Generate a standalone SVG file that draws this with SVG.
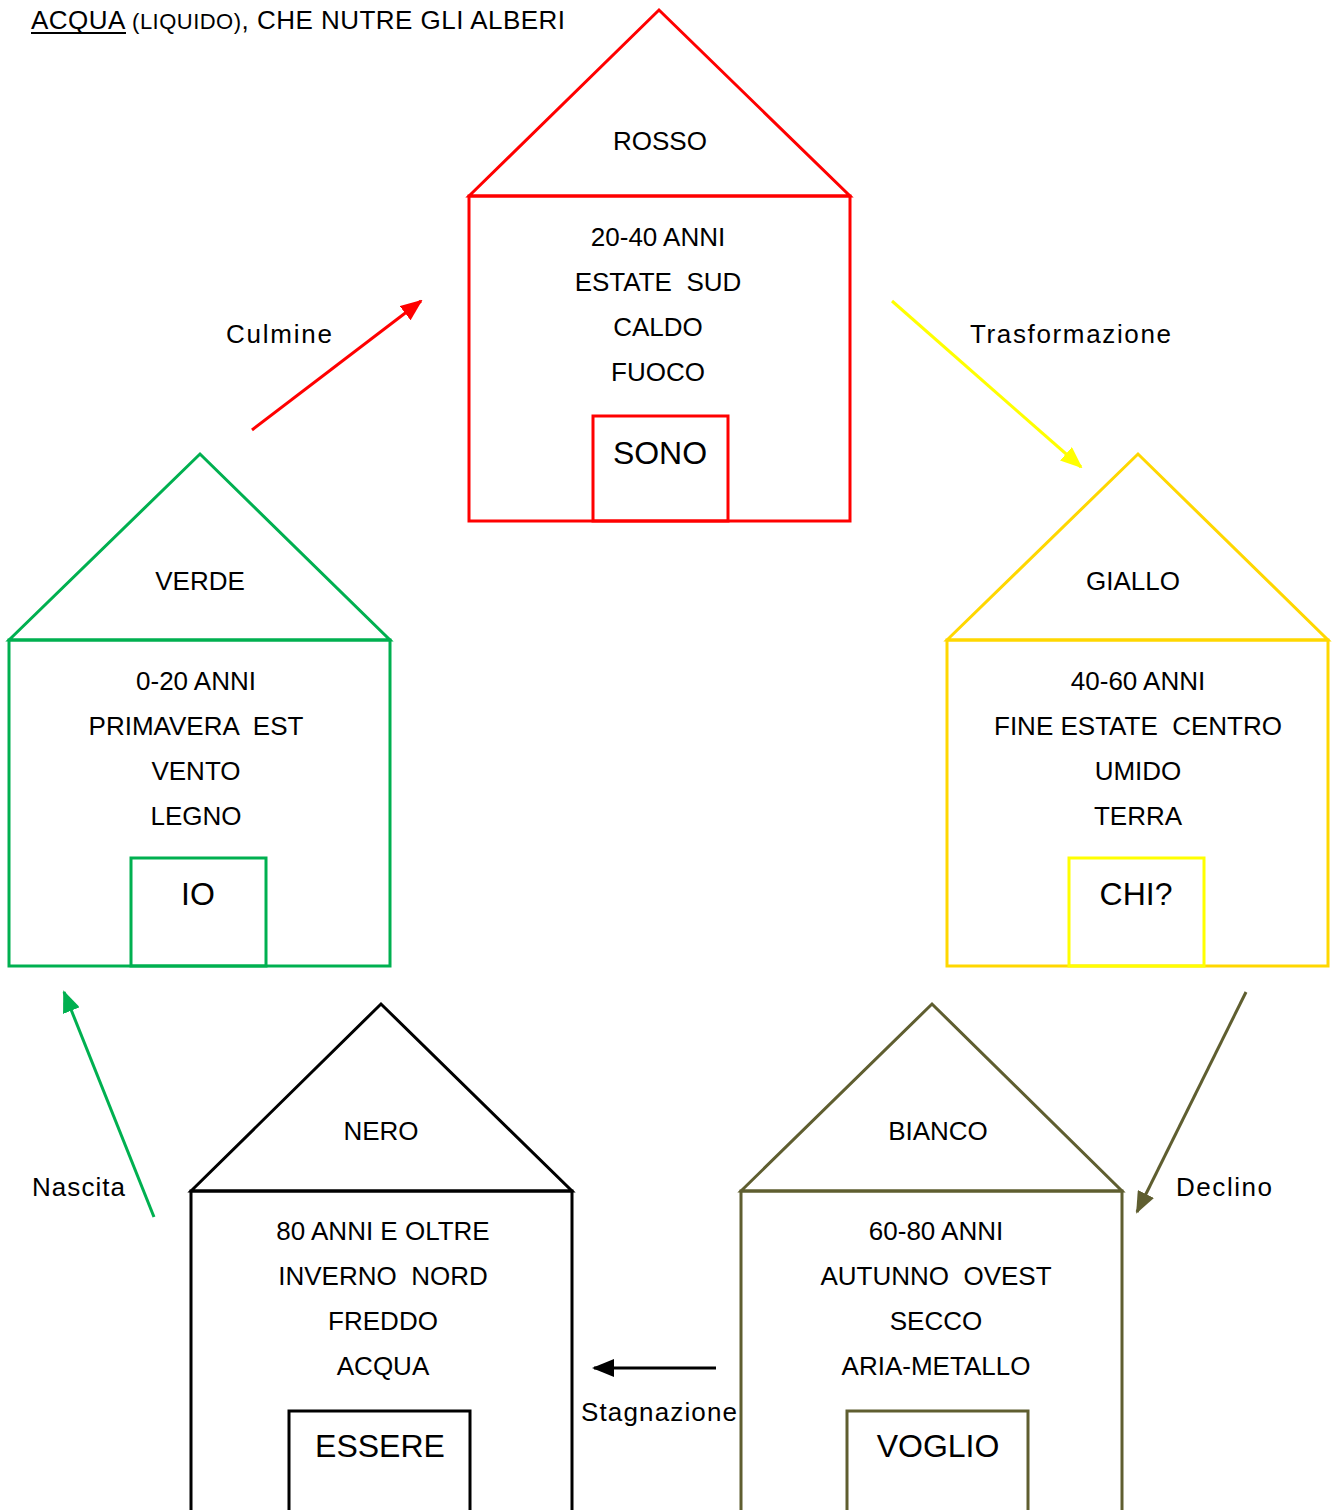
<svg xmlns="http://www.w3.org/2000/svg" width="1335" height="1510" viewBox="0 0 1335 1510">
<style>
text{font-family:"Liberation Sans",Arial,sans-serif;font-size:26px;fill:#000;text-anchor:middle;white-space:pre}
.lbl{text-anchor:start}
.door{font-size:32px}
.h{fill:none;stroke-width:3}
.c{fill:none;stroke-width:3}
</style>
<defs>
<marker id="mr" markerUnits="userSpaceOnUse" markerWidth="22" markerHeight="18" refX="20" refY="9" orient="auto"><path d="M0,0 L22,9 L0,18 Z" fill="#FF0000"/></marker>
<marker id="my" markerUnits="userSpaceOnUse" markerWidth="22" markerHeight="18" refX="20" refY="9" orient="auto"><path d="M0,0 L22,9 L0,18 Z" fill="#FFFF00"/></marker>
<marker id="mg" markerUnits="userSpaceOnUse" markerWidth="22" markerHeight="18" refX="20" refY="9" orient="auto"><path d="M0,0 L22,9 L0,18 Z" fill="#00B050"/></marker>
<marker id="mo" markerUnits="userSpaceOnUse" markerWidth="22" markerHeight="18" refX="20" refY="9" orient="auto"><path d="M0,0 L22,9 L0,18 Z" fill="#5F5E30"/></marker>
<marker id="mk" markerUnits="userSpaceOnUse" markerWidth="22" markerHeight="18" refX="20" refY="9" orient="auto"><path d="M0,0 L22,9 L0,18 Z" fill="#000"/></marker>
</defs>
<rect width="1335" height="1510" fill="#fff"/>

<g id="title">
<text class="lbl" x="31" y="29" textLength="534" lengthAdjust="spacing">ACQUA <tspan font-size="22">(LIQUIDO)</tspan>, CHE NUTRE GLI ALBERI</text>
<line x1="31" y1="33" x2="126" y2="33" stroke="#000" stroke-width="2"/>
</g>

<g id="rosso">
<path class="h" stroke="#FF0000" d="M469,196 L659,10 L850,196 Z"/>
<rect class="h" stroke="#FF0000" x="469" y="196" width="381" height="325"/>
<rect class="h" stroke="#FF0000" x="593" y="416" width="135" height="105"/>
<text x="660" y="150">ROSSO</text>
<text x="658" y="246">20-40 ANNI</text>
<text x="658" y="291">ESTATE  SUD</text>
<text x="658" y="336">CALDO</text>
<text x="658" y="381">FUOCO</text>
<text class="door" x="660" y="464">SONO</text>
</g>

<g id="verde">
<path class="h" stroke="#00B050" d="M9,640 L200,454 L390,640 Z"/>
<rect class="h" stroke="#00B050" x="9" y="640" width="381" height="326"/>
<rect class="h" stroke="#00B050" x="131" y="858" width="135" height="108"/>
<text x="200" y="590">VERDE</text>
<text x="196" y="690">0-20 ANNI</text>
<text x="196" y="735">PRIMAVERA  EST</text>
<text x="196" y="780">VENTO</text>
<text x="196" y="825">LEGNO</text>
<text class="door" x="198" y="905">IO</text>
</g>

<g id="giallo">
<path class="h" stroke="#FFD700" d="M947,640 L1138,454 L1328,640 Z"/>
<rect class="h" stroke="#FFD700" x="947" y="640" width="381" height="326"/>
<rect class="h" stroke="#FFFF00" x="1069" y="858" width="135" height="108"/>
<text x="1133" y="590">GIALLO</text>
<text x="1138" y="690">40-60 ANNI</text>
<text x="1138" y="735">FINE ESTATE  CENTRO</text>
<text x="1138" y="780">UMIDO</text>
<text x="1138" y="825">TERRA</text>
<text class="door" x="1136" y="905">CHI?</text>
</g>

<g id="nero">
<path class="h" stroke="#000" d="M191,1191 L381,1004 L572,1191 Z"/>
<rect class="h" stroke="#000" x="191" y="1191" width="381" height="330"/>
<rect class="h" stroke="#000" x="289" y="1411" width="181" height="110"/>
<text x="381" y="1140">NERO</text>
<text x="383" y="1240">80 ANNI E OLTRE</text>
<text x="383" y="1285">INVERNO  NORD</text>
<text x="383" y="1330">FREDDO</text>
<text x="383" y="1375">ACQUA</text>
<text class="door" x="380" y="1457">ESSERE</text>
</g>

<g id="bianco">
<path class="h" stroke="#5F5E30" d="M741,1191 L932,1004 L1122,1191 Z"/>
<rect class="h" stroke="#5F5E30" x="741" y="1191" width="381" height="330"/>
<rect class="h" stroke="#5F5E30" x="847" y="1411" width="181" height="110"/>
<text x="938" y="1140">BIANCO</text>
<text x="936" y="1240">60-80 ANNI</text>
<text x="936" y="1285">AUTUNNO  OVEST</text>
<text x="936" y="1330">SECCO</text>
<text x="936" y="1375">ARIA-METALLO</text>
<text class="door" x="938" y="1457">VOGLIO</text>
</g>

<g id="connectors">
<line class="c" stroke="#FF0000" x1="252" y1="430" x2="421" y2="301" marker-end="url(#mr)"/>
<line class="c" stroke="#FFFF00" x1="892" y1="301" x2="1081" y2="467" marker-end="url(#my)"/>
<line class="c" stroke="#00B050" x1="154" y1="1217" x2="64" y2="992" marker-end="url(#mg)"/>
<line class="c" stroke="#5F5E30" x1="1246" y1="992" x2="1137" y2="1212" marker-end="url(#mo)"/>
<line class="c" stroke="#000" x1="716" y1="1368" x2="594" y2="1368" marker-end="url(#mk)"/>
<text class="lbl" x="226" y="343" textLength="106" lengthAdjust="spacing">Culmine</text>
<text class="lbl" x="970" y="343" textLength="201" lengthAdjust="spacing">Trasformazione</text>
<text class="lbl" x="32" y="1196" textLength="93" lengthAdjust="spacing">Nascita</text>
<text class="lbl" x="1176" y="1196" textLength="96" lengthAdjust="spacing">Declino</text>
<text class="lbl" x="581" y="1421" textLength="156" lengthAdjust="spacing">Stagnazione</text>
</g>
</svg>
